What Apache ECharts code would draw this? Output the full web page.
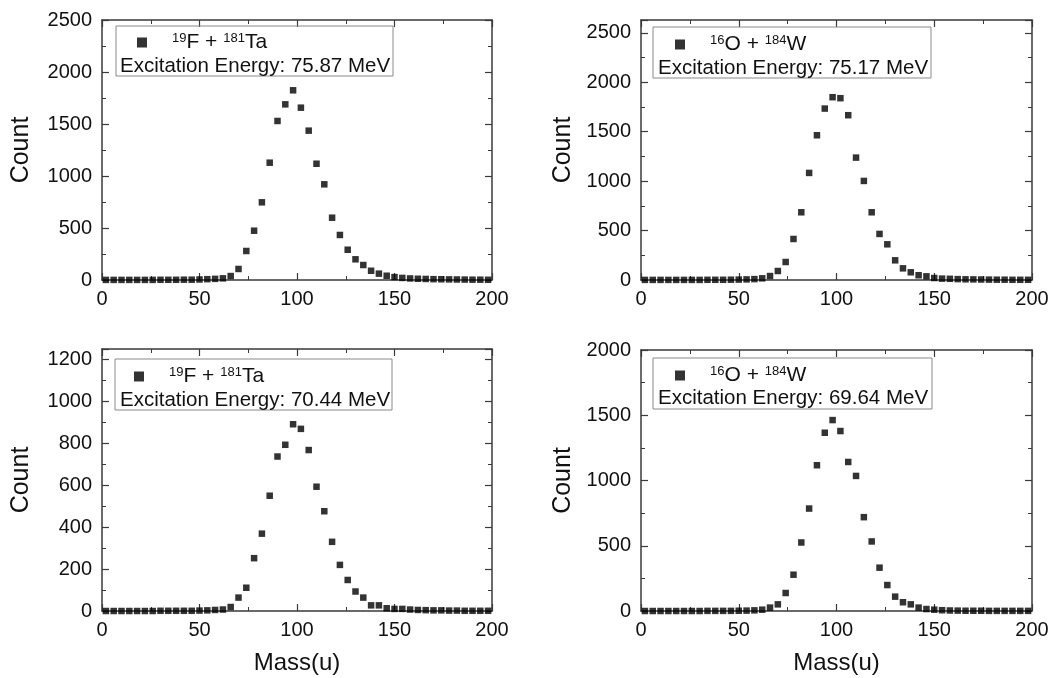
<!DOCTYPE html>
<html>
<head>
<meta charset="utf-8">
<script src="https://cdn.jsdelivr.net/npm/echarts@6/dist/echarts.min.js"></script>
<style>html,body{margin:0;padding:0;background:#fff;}#c{width:1059px;height:678px;}</style>
</head>
<body>
<div id="c"></div>
<script>
// ---- data ----
const masses = [2,6,10,14,18,22,26,30,34,38,42,46,50,54,58,62,66,70,74,78,82,86,90,94,98,102,106,110,114,118,122,126,130,134,138,142,146,150,154,158,162,166,170,174,178,182,186,190,194,198];
const countsF7587 = [1,1,1,1,1,1,1,2,2,2,3,3,5,8,11,16,38,106,279,474,747,1128,1529,1689,1824,1657,1436,1118,920,599,433,291,199,144,89,61,41,28,20,15,12,10,8,7,6,5,4,3,3,2];
const countsO7517 = [1,1,1,1,1,1,1,1,2,2,2,3,4,6,9,17,40,91,182,415,685,1083,1464,1734,1849,1839,1667,1238,1002,685,466,361,199,118,78,48,37,20,14,12,9,7,6,5,4,3,3,2,2,2];
const countsF7044 = [0,0,0,0,0,0,0,1,1,1,1,1,2,3,5,7,19,64,111,252,369,550,737,793,891,869,768,593,476,330,220,148,93,64,27,27,13,10,10,7,5,4,3,3,2,2,1,1,1,1];
const countsO6964 = [0,0,0,0,0,0,0,0,1,1,1,1,2,3,5,10,26,51,138,278,525,785,1117,1366,1463,1379,1142,1035,719,533,332,199,110,67,51,26,15,10,6,4,3,2,2,2,1,1,1,1,1,1];
const xTicks = [0, 50, 100, 150, 200];
const yMax = [2500, 2630, 1250, 2000];
const yInterval = [500, 500, 200, 500];
const reactions = [
  {sup1:'19', el1:'F', sup2:'181', el2:'Ta'},
  {sup1:'16', el1:'O', sup2:'184', el2:'W'},
  {sup1:'19', el1:'F', sup2:'181', el2:'Ta'},
  {sup1:'16', el1:'O', sup2:'184', el2:'W'}
];
const energies = ['75.87', '75.17', '70.44', '69.64'];
const seriesData = [countsF7587, countsO7517, countsF7044, countsO6964];

// ---- layout ----
const grids = [
  {left:102, top:20, width:390, height:260},
  {left:641, top:20, width:391, height:260},
  {left:102, top:349, width:390, height:262},
  {left:641, top:350, width:391, height:261}
];
const boxes = [
  {x:116, y:26, w:277, h:50, mx:142, my:42, tx:120, ty:66},
  {x:653, y:27, w:278, h:51, mx:680, my:44, tx:658, ty:68},
  {x:115, y:359, w:277, h:51, mx:139, my:376, tx:120, ty:400},
  {x:653, y:358, w:279, h:51, mx:680, my:375, tx:658, ty:398}
];
const FONT = '"Liberation Sans", Arial, Helvetica, sans-serif';
const AX = '#3a3a3a';

const xAxes = [], yAxes = [], series = [], legends = [], graphics = [];
grids.forEach((g, i) => {
  const bottomRow = i >= 2;
  const common = {
    axisLine:{show:true, onZero:false, lineStyle:{color:AX, width:1.5}},
    axisTick:{show:true, inside:true, length:7, lineStyle:{color:AX, width:1.2}},
    minorTick:{show:true, splitNumber:2, length:4, lineStyle:{color:AX, width:1}},
    splitLine:{show:false}
  };
  xAxes.push(Object.assign({
    type:'value', gridIndex:i, position:'bottom', min:xTicks[0], max:xTicks[xTicks.length-1], interval:xTicks[1]-xTicks[0],
    axisLabel:{show:true, color:'#111', fontSize:20, fontFamily:FONT, margin:9},
    name: bottomRow ? 'Mass(u)' : '', nameLocation:'middle', nameGap:40,
    nameTextStyle:{color:'#111', fontSize:24, fontFamily:FONT}
  }, common));
  xAxes.push(Object.assign({
    type:'value', gridIndex:i, position:'top', min:xTicks[0], max:xTicks[xTicks.length-1], interval:xTicks[1]-xTicks[0],
    axisLabel:{show:false}
  }, common));
  yAxes.push(Object.assign({
    type:'value', gridIndex:i, position:'left', min:0, max:yMax[i], interval:yInterval[i],
    axisLabel:{show:true, color:'#111', fontSize:20, fontFamily:FONT, margin:10, showMaxLabel: yMax[i] % yInterval[i] === 0,
      formatter: v => (v % yInterval[i] === 0 ? String(v) : '')},
    name:'Count', nameLocation:'middle', nameGap: i % 2 === 0 ? 68 : 65,
    nameTextStyle:{color:'#111', fontSize:25, fontFamily:FONT}
  }, common));
  yAxes.push(Object.assign({
    type:'value', gridIndex:i, position:'right', min:0, max:yMax[i], interval:yInterval[i],
    axisLabel:{show:false}
  }, common));
  const name = 'S' + i;
  series.push({
    type:'scatter', name:name, xAxisIndex:2*i, yAxisIndex:2*i, symbol:'rect', symbolSize:6.5,
    itemStyle:{color:'#000'},
    data: masses.map((m, k) => [m, seriesData[i][k]])
  });
  const r = reactions[i];
  const b = boxes[i];
  legends.push({
    data:[name], left:b.mx-5, top:b.my-10, padding:0, icon:'rect', itemWidth:10, itemHeight:10,
    selectedMode:false,
    formatter: () => '{s0|' + r.sup1 + '}{n|' + r.el1 + ' + }{s|' + r.sup2 + '}{n|' + r.el2 + '}',
    textStyle:{color:'#111', fontFamily:FONT, fontSize:20,
      rich:{
        s0:{fontSize:13, fontFamily:FONT, color:'#111', verticalAlign:'top', padding:[0,0,0,20]},
        s:{fontSize:13, fontFamily:FONT, color:'#111', verticalAlign:'top'},
        n:{fontSize:21, fontFamily:FONT, color:'#111'}
      }},
    itemStyle:{color:'#000'}
  });
  graphics.push({
    type:'rect', shape:{x:b.x, y:b.y, width:b.w, height:b.h},
    style:{fill:'rgba(255,255,255,0)', stroke:'#8a8a8a', lineWidth:1}, z:10
  });
  graphics.push({
    type:'text', x:b.tx, y:b.ty,
    style:{text:'Excitation Energy: ' + energies[i] + ' MeV', fill:'#111', font:'20.5px ' + FONT, textVerticalAlign:'middle', textAlign:'left'},
    z:10
  });
});

const chart = echarts.init(document.getElementById('c'), null, {renderer:'canvas'});
chart.setOption({
  backgroundColor:'#fff',
  animation:false,
  grid: grids,
  xAxis: xAxes,
  yAxis: yAxes,
  legend: legends,
  series: series,
  graphic: graphics
});
</script>
</body>
</html>
